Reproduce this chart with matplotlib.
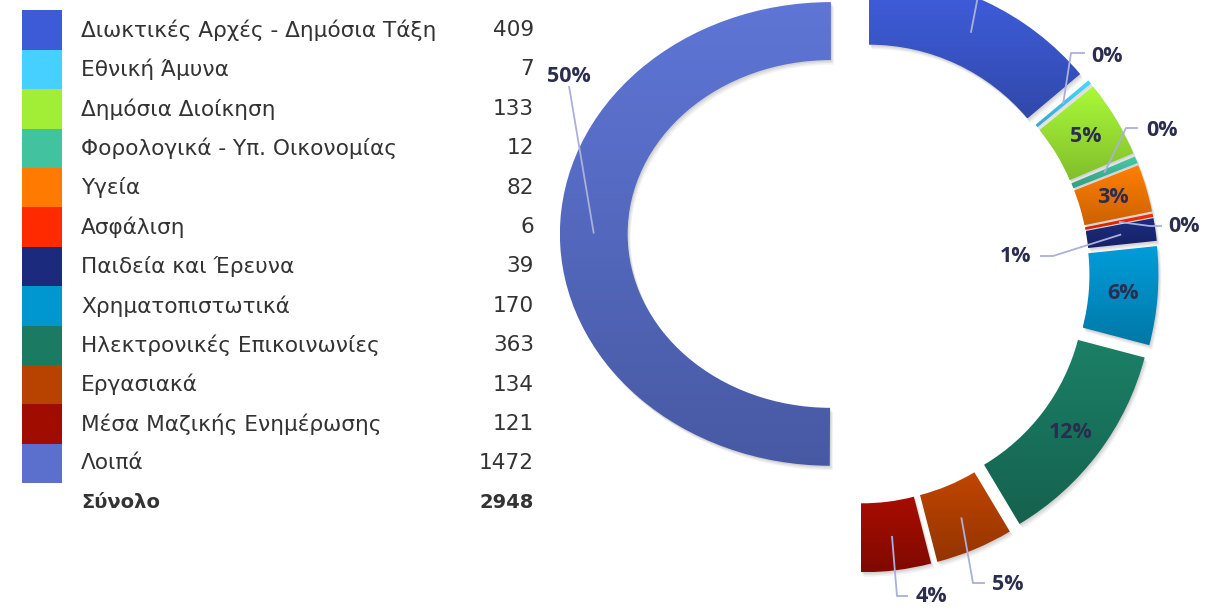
import numpy as np
import matplotlib
matplotlib.use("Agg")
import matplotlib.pyplot as plt
import matplotlib.patches as mpatches
import matplotlib.transforms as mtransforms
from matplotlib.colors import to_rgb

# ---------------- data ----------------
categories = ["Διωκτικές Αρχές - Δημόσια Τάξη", "Εθνική Άμυνα", "Δημόσια Διοίκηση",
              "Φορολογικά - Υπ. Οικονομίας", "Υγεία", "Ασφάλιση", "Παιδεία και Έρευνα",
              "Χρηματοπιστωτικά", "Ηλεκτρονικές Επικοινωνίες", "Εργασιακά",
              "Μέσα Μαζικής Ενημέρωσης", "Λοιπά"]
values = [409, 7, 133, 12, 82, 6, 39, 170, 363, 134, 121, 1472]
colors = ["#3D5BD6", "#45D0FF", "#A2EE36", "#42C3A0", "#FF7A00", "#FF2A00",
          "#1B2A7C", "#0096D0", "#1A7A62", "#B84200", "#A00C00", "#5A70CC"]
total_label = "Σύνολο"
total_value = sum(values)

# ---------------- layout (pixels, y from top) ----------------
W, H = 1223, 610
CX, CY = 859, 273          # donut centre
R, RW, EXPL = 276, 69, 23.5
# the large slice is drawn in its own, vertically squeezed frame
LX, LY, SX, SY = 854, 234, 0.982, 0.84
# label placement: None = inside slice, else (text position, leader knee points)
# (the first slice's label sits above the visible canvas: only its leader shows)
label_layout = [
    (None, [(978, -4)]),
    ((1107, 56), [(1071, 53), (1085, 53)]),
    None,
    ((1162, 130), [(1126, 128), (1138, 128)]),
    None,
    ((1184, 227), [(1150, 226), (1162, 226)]),
    ((1016, 257), [(1053, 256), (1040, 256)]),
    None,
    None,
    ((1008, 584), [(973, 583), (985, 583)]),
    ((931, 597), [(897, 596), (908, 596)]),
    ((569, 77), [(569, 86)]),
]
LBL_COLOR = "#2A2D4E"
LEAD_COLOR = "#A9B0DC"
TXT_COLOR = "#333333"
LBL_FONT = dict(fontsize=15.5, fontweight="bold", family="Open Sans", color=LBL_COLOR)

fig = plt.figure(figsize=(W / 100, H / 100), dpi=100)
n = len(values)


def make_pie(ax):
    wedges, _ = ax.pie(values, radius=R, center=(CX, H - CY), explode=[EXPL] * n,
                       startangle=90, counterclock=False, colors=colors,
                       wedgeprops=dict(width=RW, linewidth=0))
    return wedges


def style_wedges(ax, wedges, visible):
    for i, w in enumerate(wedges):
        if not visible[i]:
            w.set_visible(False)
            continue
        base = np.array(to_rgb(colors[i]))
        top = np.clip(base * 1.05, 0, 1)
        bot = base * 0.80
        # soft shadow
        for dx, dy, a in [(1.0, -1.5, 0.07), (2.0, -3.0, 0.06), (3.0, -4.5, 0.05)]:
            tr = ax.transData + mtransforms.ScaledTranslation(dx / 100, dy / 100, fig.dpi_scale_trans)
            sh = mpatches.Wedge(w.center, w.r, w.theta1, w.theta2, width=w.width,
                                facecolor="black", alpha=a, linewidth=0,
                                transform=tr, zorder=0.5, clip_on=False)
            ax.add_patch(sh)
        ext = w.get_path().get_extents()
        g = np.linspace(0, 1, 256)[:, None, None]
        img = top[None, None, :] * (1 - g) + bot[None, None, :] * g
        im = ax.imshow(img, extent=(ext.x0, ext.x1, ext.y0, ext.y1), origin="upper",
                       aspect="auto", interpolation="bilinear", zorder=1)
        im.set_clip_path(w)
        w.set_facecolor("none")
        w.set_zorder(1)


# main donut (all slices except the large one)
ax1 = fig.add_axes([0, 0, 1, 1])
w1 = make_pie(ax1)
style_wedges(ax1, w1, [True] * (n - 1) + [False])
ax1.set_aspect("auto")
ax1.set_xlim(0, W)
ax1.set_ylim(0, H)
ax1.axis("off")

# large slice
ax2 = fig.add_axes([0, 0, 1, 1], label="big")
w2 = make_pie(ax2)
style_wedges(ax2, w2, [False] * (n - 1) + [True])
ax2.set_aspect("auto")
ax2.set_xlim(CX - LX / SX, CX + (W - LX) / SX)
ax2.set_ylim((H - CY) - (H - LY) / SY, (H - CY) + LY / SY)
ax2.axis("off")
ax2.patch.set_visible(False)

# overlay in figure pixels
ax3 = fig.add_axes([0, 0, 1, 1], label="overlay")
ax3.set_xlim(0, W)
ax3.set_ylim(0, H)
ax3.axis("off")
ax3.patch.set_visible(False)

fig.canvas.draw()

total = sum(values)
for i in range(n):
    ax = ax2 if i == n - 1 else ax1
    w = (w2 if i == n - 1 else w1)[i]
    tm = np.deg2rad((w.theta1 + w.theta2) / 2)
    rm = w.r - w.width / 2
    anchor = (w.center[0] + rm * np.cos(tm), w.center[1] + rm * np.sin(tm))
    ax_px = ax.transData.transform(anchor)
    apx = ax3.transData.inverted().transform(ax_px)
    pct = f"{round(values[i] / total * 100):d}%"
    lay = label_layout[i]
    if lay is None:
        ax3.text(apx[0], apx[1], pct, ha="center", va="center", **LBL_FONT)
    else:
        tpos, knees = lay
        xs = [apx[0]] + [k[0] for k in knees]
        ys = [apx[1]] + [H - k[1] for k in knees]
        ax3.plot(xs, ys, color=LEAD_COLOR, lw=1.3, solid_capstyle="butt", clip_on=False)
        if tpos is not None:
            ax3.text(tpos[0], H - tpos[1], pct, ha="center", va="center", **LBL_FONT)

# legend table
ROW0, ROWH = 30, 39.4
for i, (cat, val) in enumerate(zip(categories, values)):
    yc = H - (ROW0 + ROWH * i)
    ax3.add_patch(mpatches.Rectangle((22, yc - ROWH / 2), 40, ROWH, facecolor=colors[i],
                                     edgecolor="none"))
    ax3.text(81, yc, cat, ha="left", va="center", fontsize=15.6, family="DejaVu Sans",
             color=TXT_COLOR)
    ax3.text(534, yc, f"{val}", ha="right", va="center", fontsize=15.6,
             family="DejaVu Sans", color=TXT_COLOR)
yc = H - (ROW0 + ROWH * n)
ax3.text(81, yc, total_label, ha="left", va="center", fontsize=14, fontweight="bold",
         family="DejaVu Sans", color=TXT_COLOR)
ax3.text(534, yc, f"{total_value}", ha="right", va="center", fontsize=14,
         fontweight="bold", family="DejaVu Sans", color=TXT_COLOR)

fig.savefig("out.png", dpi=100, facecolor="white")
